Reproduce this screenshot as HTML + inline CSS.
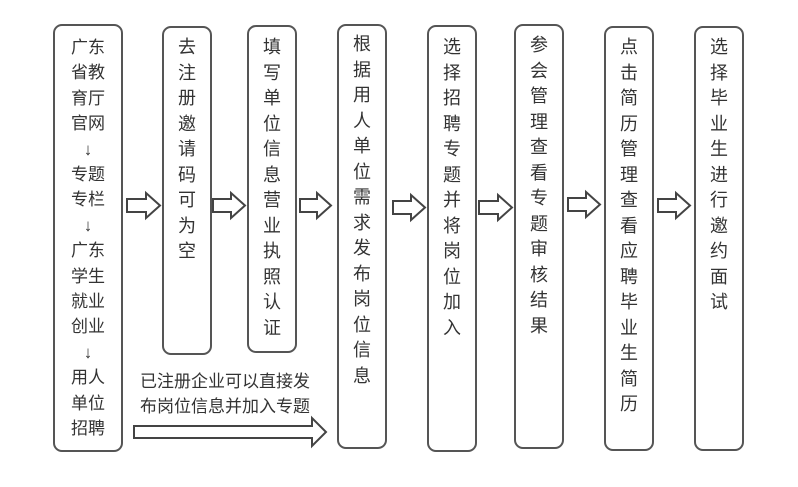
<!DOCTYPE html>
<html><head><meta charset="utf-8"><style>
html,body{margin:0;padding:0;background:#fff;width:798px;height:487px;overflow:hidden}
.b{position:absolute;border:2px solid #555;border-radius:9px;box-sizing:border-box}
.t{position:absolute;font-family:"Liberation Sans","Noto Sans CJK SC",sans-serif;font-size:18px;line-height:25.5px;color:#333;text-align:center;width:24px}
.t2{width:44px}
.l{position:absolute;font-family:"Liberation Sans","Noto Sans CJK SC",sans-serif;font-size:17px;line-height:25px;color:#333;white-space:nowrap}
svg{position:absolute;left:0;top:0}
</style></head><body>
<div class="b" style="left:53px;top:24px;width:70px;height:428px"></div>
<div class="t t2" style="left:66px;top:35px;font-size:17px;line-height:25.4px">广东<br>省教<br>育厅<br>官网<br>↓<br>专题<br>专栏<br>↓<br>广东<br>学生<br>就业<br>创业<br>↓<br>用人<br>单位<br>招聘</div>
<div class="b" style="left:162px;top:26px;width:50px;height:329px"></div>
<div class="t" style="left:175px;top:35px">去<br>注<br>册<br>邀<br>请<br>码<br>可<br>为<br>空</div>
<div class="b" style="left:247px;top:25px;width:50px;height:328px"></div>
<div class="t" style="left:260px;top:35px">填<br>写<br>单<br>位<br>信<br>息<br>营<br>业<br>执<br>照<br>认<br>证</div>
<div class="b" style="left:337px;top:24px;width:50px;height:425px"></div>
<div class="t" style="left:350px;top:32px">根<br>据<br>用<br>人<br>单<br>位<br>需<br>求<br>发<br>布<br>岗<br>位<br>信<br>息</div>
<div class="b" style="left:427px;top:25px;width:50px;height:427px"></div>
<div class="t" style="left:440px;top:35px">选<br>择<br>招<br>聘<br>专<br>题<br>并<br>将<br>岗<br>位<br>加<br>入</div>
<div class="b" style="left:514px;top:24px;width:50px;height:425px"></div>
<div class="t" style="left:527px;top:33px">参<br>会<br>管<br>理<br>查<br>看<br>专<br>题<br>审<br>核<br>结<br>果</div>
<div class="b" style="left:604px;top:26px;width:50px;height:425px"></div>
<div class="t" style="left:617px;top:35px">点<br>击<br>简<br>历<br>管<br>理<br>查<br>看<br>应<br>聘<br>毕<br>业<br>生<br>简<br>历</div>
<div class="b" style="left:694px;top:26px;width:50px;height:425px"></div>
<div class="t" style="left:707px;top:35px">选<br>择<br>毕<br>业<br>生<br>进<br>行<br>邀<br>约<br>面<br>试</div>
<div class="l" style="left:140px;top:369px">已注册企业可以直接发</div>
<div class="l" style="left:140px;top:394px">布岗位信息并加入专题</div>
<svg width="798" height="487" fill="#fff" stroke="#444" stroke-width="2" stroke-linejoin="miter">
<path d="M127 199H146V193L160 205.5L146 218V212H127Z"/>
<path d="M213 199H231V193L245 205.5L231 218V212H213Z"/>
<path d="M300 199H317V193L331 205.5L317 218V212H300Z"/>
<path d="M393 201H411V195L425 207.5L411 220V214H393Z"/>
<path d="M479 201H498V195L512 207.5L498 220V214H479Z"/>
<path d="M568 198H586V192L600 204.5L586 217V211H568Z"/>
<path d="M658 199H676V193L690 205.5L676 218V212H658Z"/>
<path d="M134 426H312V418L326 432L312 446V438H134Z"/>
</svg>
</body></html>
